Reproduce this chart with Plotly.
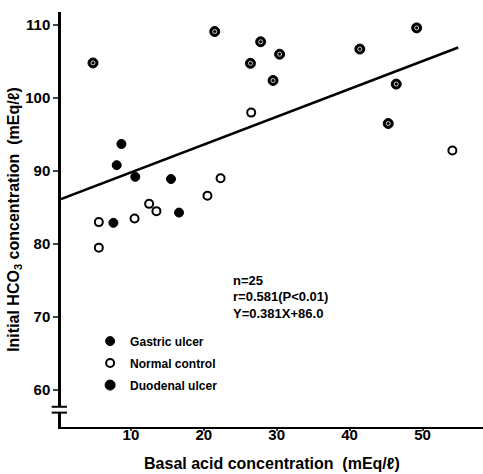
import plotly.graph_objects as go

# Data
gastric_x = [8.7, 8.05, 10.6, 15.5, 16.6, 7.6]
gastric_y = [93.7, 90.8, 89.2, 88.9, 84.3, 82.9]

normal_x = [5.6, 10.5, 12.5, 13.5, 20.5, 22.3, 26.5, 5.6, 54.1]
normal_y = [83.0, 83.5, 85.5, 84.5, 86.6, 89.0, 98.0, 79.5, 92.8]

duodenal_x = [4.8, 21.5, 26.4, 27.8, 30.4, 29.5, 41.4, 49.2, 46.4, 45.3]
duodenal_y = [104.8, 109.1, 104.75, 107.7, 106.0, 102.4, 106.7, 109.6, 101.9, 96.5]

slope = 0.381
intercept = 86.0
fit_x = [0.41, 54.9]
fit_y = [slope * v + intercept for v in fit_x]

x_ticks = [10, 20, 30, 40, 50]
y_ticks = [60, 70, 80, 90, 100, 110]

stats_lines = ["n=25", "r=0.581(P<0.01)", "Y=0.381X+86.0"]

FONT = "Liberation Sans, Arial, sans-serif"

fig = go.Figure()

fig.add_trace(go.Scatter(x=fit_x, y=fit_y, mode="lines",
                         line=dict(color="black", width=2.5), showlegend=False,
                         hoverinfo="skip"))

fig.add_trace(go.Scatter(x=gastric_x, y=gastric_y, mode="markers", name="Gastric ulcer",
                         legendgroup="g",
                         marker=dict(symbol="circle", size=9, color="black",
                                     line=dict(color="black", width=1))))
fig.add_trace(go.Scatter(x=normal_x, y=normal_y, mode="markers", name="Normal control",
                         legendgroup="n",
                         marker=dict(symbol="circle-open", size=8, color="black",
                                     line=dict(color="black", width=2))))
fig.add_trace(go.Scatter(x=duodenal_x, y=duodenal_y, mode="markers", name="Duodenal ulcer",
                         legendgroup="du",
                         marker=dict(symbol="circle", size=10, color="black",
                                     line=dict(color="black", width=1))))
fig.add_trace(go.Scatter(x=duodenal_x, y=duodenal_y, mode="markers", showlegend=False,
                         legendgroup="du", hoverinfo="skip",
                         marker=dict(symbol="circle-open", size=4, color="white",
                                     line=dict(color="white", width=0.8))))

stat_y = [0.354, 0.314, 0.274]
annotations = [
    dict(x=0.403, y=yy, xref="paper", yref="paper", xanchor="left", yanchor="middle",
         align="left", showarrow=False, text=t,
         font=dict(size=13, family=FONT, weight="bold"))
    for t, yy in zip(stats_lines, stat_y)
]

fig.update_layout(
    width=483, height=474,
    margin=dict(l=61, r=0, t=12, b=47, autoexpand=False),
    plot_bgcolor="white", paper_bgcolor="white",
    font=dict(family=FONT, color="black"),
    legend=dict(x=0.069, y=0.242, xanchor="left", yanchor="top", traceorder="grouped",
                bgcolor="rgba(0,0,0,0)", font=dict(size=12, family=FONT, weight="bold"),
                itemwidth=30, tracegroupgap=3),
    annotations=annotations,
)

fig.update_xaxes(range=[0.41, 58.3], tickvals=x_ticks, ticks="outside", ticklen=2,
                 tickwidth=2, showline=True, linecolor="black", linewidth=2,
                 showgrid=False, zeroline=False, automargin=False,
                 ticklabelstandoff=-9,
                 tickfont=dict(size=15, family=FONT, weight="bold"),
                 title=dict(text="Basal acid concentration  (mEq/ℓ)",
                            font=dict(size=16, family=FONT, weight="bold"), standoff=16))
fig.update_yaxes(range=[54.93, 111.78], tickvals=y_ticks, ticks="outside", ticklen=5,
                 tickwidth=2, showline=True, linecolor="black", linewidth=2.5,
                 showgrid=False, zeroline=False, automargin=False,
                 tickfont=dict(size=15, family=FONT, weight="bold"),
                 title=dict(text="Initial HCO<sub>3</sub> concentration  (mEq/ℓ)",
                            font=dict(size=16, family=FONT, weight="bold"), standoff=2))

# axis break
fig.add_shape(type="rect", xref="x domain", yref="y", x0=-0.02, x1=0.02, y0=56.9, y1=57.7,
              fillcolor="white", line=dict(width=0))
for yb in (57.7, 56.9):
    fig.add_shape(type="line", xref="x domain", yref="y", x0=-0.022, x1=0.014, y0=yb, y1=yb,
                  line=dict(color="black", width=2))

fig.write_html("out.html", config={"displayModeBar": False},
               post_script="document.body.style.margin='0px';")
